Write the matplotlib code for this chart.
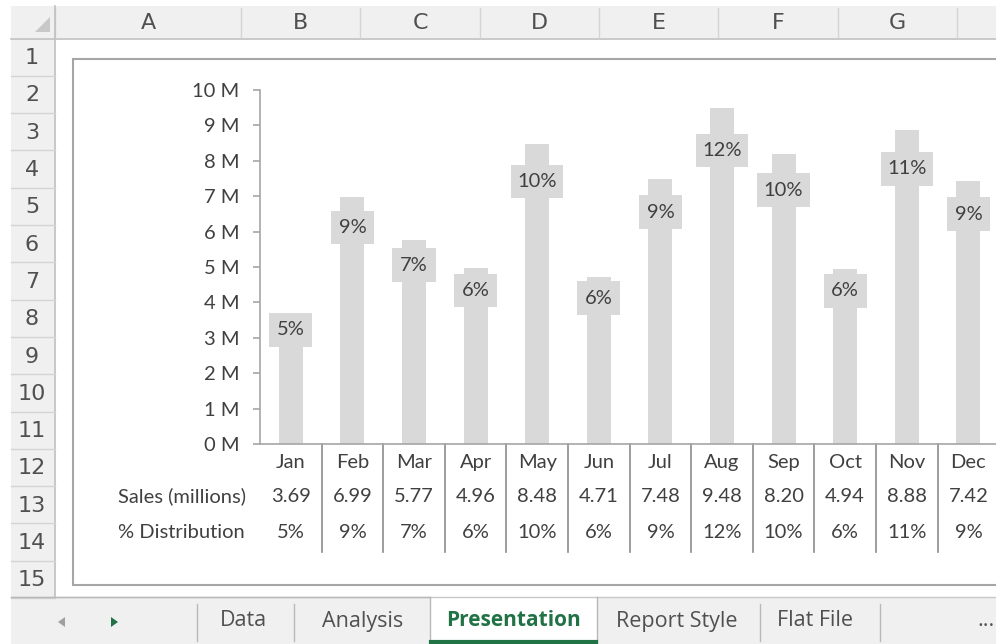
import numpy as np
import matplotlib
matplotlib.use('Agg')
import matplotlib.pyplot as plt
import matplotlib.transforms as mtransforms
from matplotlib.patches import Rectangle, Polygon
from matplotlib.ticker import FuncFormatter

# data
months = ['Jan', 'Feb', 'Mar', 'Apr', 'May', 'Jun', 'Jul', 'Aug', 'Sep', 'Oct', 'Nov', 'Dec']
sales = [3.69, 6.99, 5.77, 4.96, 8.48, 4.71, 7.48, 9.48, 8.20, 4.94, 8.88, 7.42]   # millions
pct = [5, 9, 7, 6, 10, 6, 9, 12, 10, 6, 11, 9]
table_rows = ['Sales (millions)', '% Distribution']
col_letters = ['A', 'B', 'C', 'D', 'E', 'F', 'G']
row_numbers = list(range(1, 16))
sheet_tabs = ['Data', 'Analysis', 'Presentation', 'Report Style', 'Flat File', '...']
active_tab = 'Presentation'

W, H = 996, 644
fig = plt.figure(figsize=(W / 100, H / 100), dpi=100)

# background axes in pixel coords (y down) for the spreadsheet chrome
bg = fig.add_axes([0, 0, 1, 1])
bg.set_xlim(0, W)
bg.set_ylim(H, 0)
bg.axis('off')

chrome = '#f0f0f0'
grid_c = '#d4d4d4'
head_txt = '#505050'
chart_txt = '#404040'
bar_c = '#d9d9d9'
xl_green = '#217346'
fs = 14.5

# column header band
col_edges = [55, 241, 360, 480, 599, 718, 838, 957, 1077]
bg.add_patch(Rectangle((11, 6), W - 11, 32, facecolor=chrome, edgecolor='none'))
bg.plot([11, W], [38.5, 38.5], color='#c0c0c0', lw=1.2)
for xe in col_edges[:-1]:
    bg.plot([xe, xe], [8, 38], color=grid_c, lw=1)
for i, letter in enumerate(col_letters):
    xc = (col_edges[i] + col_edges[i + 1]) / 2
    bg.text(xc, 23, letter, ha='center', va='center', fontsize=16,
            color=head_txt, family='DejaVu Sans')
# corner triangle
bg.add_patch(Polygon([[50, 17], [50, 32], [35, 32]], closed=True,
                     facecolor='#c8c8c8', edgecolor='none'))

# row header column
row_top, row_h = 38.5, 37.3
bg.add_patch(Rectangle((11, row_top), 44, 597 - row_top, facecolor=chrome, edgecolor='none'))
bg.plot([55, 55], [6, 597], color='#c0c0c0', lw=1.2)
for k in row_numbers:
    y0 = row_top + (k - 1) * row_h
    bg.plot([11, 55], [y0 + row_h, y0 + row_h], color=grid_c, lw=1)
    bg.text(32, y0 + row_h / 2 + 1, str(k), ha='center', va='center', fontsize=16,
            color=head_txt, family='DejaVu Sans')

# chart frame
bg.add_patch(Rectangle((73, 59), 1000, 526, facecolor='white', edgecolor='#a6a6a6', lw=1.5))

# sheet tab bar
bg.add_patch(Rectangle((11, 597), W - 11, H - 597, facecolor=chrome, edgecolor='none'))
bg.plot([11, W], [597, 597], color='#c8c8c8', lw=1)
bg.add_patch(Polygon([[58, 622], [65, 617], [65, 627]], closed=True, facecolor='#a0a0a0', edgecolor='none'))
bg.add_patch(Polygon([[118, 622], [111, 617], [111, 627]], closed=True, facecolor=xl_green, edgecolor='none'))
tab_x = [243, 363, 513, 677, 815, 986]
for xs in [197, 294, 760, 880]:
    bg.plot([xs, xs], [604, 641], color='#b8b8b8', lw=1)
bg.add_patch(Rectangle((430, 597), 167, H - 597, facecolor='white', edgecolor='none'))
bg.plot([430, 430], [597, H], color='#b8b8b8', lw=1)
bg.plot([597, 597], [597, H], color='#b8b8b8', lw=1)
bg.plot([431, 596], [641.5, 641.5], color=xl_green, lw=3)
bg.plot([11, 430], [597, 597], color='#b8b8b8', lw=1)
for name, xt in zip(sheet_tabs, tab_x):
    if name == active_tab:
        bg.text(xt, 621, name, ha='center', va='center', fontsize=15, color=xl_green,
                fontweight='bold', family='Open Sans')
    else:
        bg.text(xt, 621, name, ha='center', va='center', fontsize=15.5, color='#505050',
                family='Open Sans')

# chart plot area: 0 M at y=444 px, 10 M at y=90 px, 61.6 px per month
x0_px, y0_px, ytop_px, cat_px = 260, 444, 90, 61.6
ax = fig.add_axes([x0_px / W, (H - y0_px) / H, (W - x0_px) / W, (y0_px - ytop_px) / H])
ax.patch.set_alpha(0)
x = np.arange(len(months))
sales_arr = np.array(sales)
ax.bar(x, sales_arr, width=0.39, color=bar_c, zorder=2)

# label boxes sit a bit under the bar end
lab_y = sales_arr * 0.875
box_w = [0.70 if p < 10 else 0.85 for p in pct]
ax.bar(x, 0.95, bottom=lab_y - 0.475, width=box_w, color=bar_c, zorder=3)
for xi, yi, p in zip(x, lab_y, pct):
    ax.text(xi, yi, f'{p}%', ha='center', va='center', fontsize=fs,
            color=chart_txt, family='Lato', zorder=4)

ax.set_xlim(-0.5, -0.5 + (W - x0_px) / cat_px)
ax.set_ylim(0, 10)
ax.set_yticks(range(0, 11))
ax.yaxis.set_major_formatter(FuncFormatter(lambda v, pos: f'{v:.0f} M'))
ax.set_xticks([])
for s in ['top', 'right']:
    ax.spines[s].set_visible(False)
ax.spines['left'].set_color('#a6a6a6')
ax.spines['bottom'].set_color('#a6a6a6')
ax.spines['left'].set_linewidth(1.2)
ax.spines['bottom'].set_linewidth(1.2)
ax.tick_params(axis='y', length=5, width=1.2, color='#a6a6a6', pad=10,
               labelsize=fs, labelcolor=chart_txt)
for lab in ax.get_yticklabels():
    lab.set_family('Lato')

# data table under the axis: x from chart scale, y in pixels
tr = mtransforms.blended_transform_factory(ax.transData, bg.transData)
row_y = [462, 496, 532]
for i, m in enumerate(months):
    ax.text(i, row_y[0], m, transform=tr, ha='center', va='center', fontsize=fs,
            color=chart_txt, family='Lato')
    ax.text(i, row_y[1], f'{sales[i]:.2f}', transform=tr, ha='center', va='center',
            fontsize=fs, color=chart_txt, family='Lato')
    ax.text(i, row_y[2], f'{pct[i]}%', transform=tr, ha='center', va='center',
            fontsize=fs, color=chart_txt, family='Lato')
for i in range(len(months) - 1):
    ax.plot([i + 0.5, i + 0.5], [y0_px, 552], transform=tr, color='#8c8c8c', lw=1.2,
            clip_on=False)
for label, yr in zip(table_rows, row_y[1:]):
    bg.text(118, yr, label, ha='left', va='center', fontsize=fs, color=chart_txt,
            family='Lato', zorder=5)

fig.savefig('out.png', dpi=100)
